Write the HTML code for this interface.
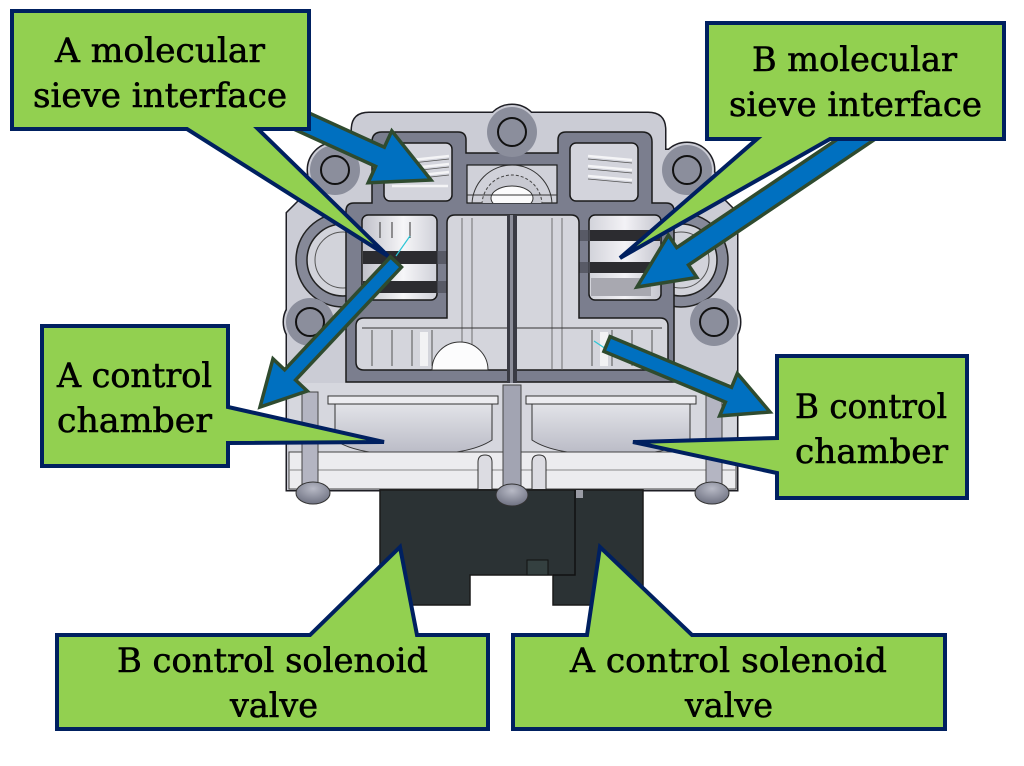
<!DOCTYPE html>
<html>
<head>
<meta charset="utf-8">
<style>
html,body{margin:0;padding:0;background:#fff;}
svg{display:block;}
text{font-family:"DejaVu Serif","Liberation Serif",serif;font-size:34px;fill:#000;stroke:#000;stroke-width:0.6px;}
</style>
</head>
<body>
<svg width="1024" height="766" viewBox="0 0 1024 766" xmlns="http://www.w3.org/2000/svg">
<defs>
  <linearGradient id="gL" x1="0" x2="1" y1="0" y2="0">
    <stop offset="0" stop-color="#bfc0c9"/>
    <stop offset="0.55" stop-color="#f6f6f8"/>
    <stop offset="1" stop-color="#cfd0d8"/>
  </linearGradient>
  <linearGradient id="gR" x1="0" x2="1" y1="0" y2="0">
    <stop offset="0" stop-color="#d2d3da"/>
    <stop offset="0.5" stop-color="#f3f2f6"/>
    <stop offset="1" stop-color="#c4c5ce"/>
  </linearGradient>
  <linearGradient id="gBowl" x1="0" x2="0" y1="0" y2="1">
    <stop offset="0" stop-color="#e2e3e8"/>
    <stop offset="1" stop-color="#b9bac5"/>
  </linearGradient>
  <radialGradient id="gScrew" cx="0.5" cy="0.3" r="0.7">
    <stop offset="0" stop-color="#b8bac6"/>
    <stop offset="1" stop-color="#6f7282"/>
  </radialGradient>
  <clipPath id="ctop"><rect x="467" y="165" width="90" height="38"/></clipPath>
  <g id="bsil">
    <path d="M352,150 V130 Q352,113 369,113 H648 Q665,113 665,130 V150 Z"/>
    <polygon points="340,150 684,150 714,172 724,200 737,213 737,490 287,490 287,213 300,200 310,172"/>
    <circle cx="335" cy="170" r="27"/>
    <circle cx="687" cy="170" r="27"/>
    <circle cx="512" cy="132" r="27"/>
    <circle cx="310" cy="322" r="26"/>
    <circle cx="714" cy="322" r="26"/>
  </g>
  <clipPath id="cl">
    <path clip-rule="evenodd" d="M0,0H1024V766H0Z M10,9H311V131H10Z M705,21H1006V141H705Z M40,324H230V468H40Z M775,354H969V500H775Z"/>
  </clipPath>
</defs>

<!-- ===== Mechanical body ===== -->
<use href="#bsil" fill="#cbccd5" stroke="#1e1e24" stroke-width="3"/>
<use href="#bsil" fill="#cbccd5"/>

<!-- large side rings -->
<circle cx="343" cy="260" r="47" fill="#868998" stroke="#222" stroke-width="1.5"/>
<circle cx="343" cy="260" r="36" fill="#d2d3da" stroke="#222" stroke-width="1.5"/>
<circle cx="343" cy="260" r="28" fill="none" stroke="#555" stroke-width="1"/>
<circle cx="681" cy="260" r="47" fill="#868998" stroke="#222" stroke-width="1.5"/>
<circle cx="681" cy="260" r="36" fill="#d2d3da" stroke="#222" stroke-width="1.5"/>
<circle cx="681" cy="260" r="28" fill="none" stroke="#555" stroke-width="1"/>

<!-- dark frame -->
<path d="M372,142 Q372,132 382,132 H458 Q466,132 466,140 V153 H558 V140 Q558,132 566,132 H642 Q652,132 652,142 V203 H666 Q674,203 674,211 V382 H346 V211 Q346,203 354,203 H372 Z" fill="#7b7e8e" stroke="#1a1a1a" stroke-width="1.5"/>

<!-- boss disks -->
<g fill="#8b8e9c">
  <circle cx="335" cy="170" r="25"/>
  <circle cx="687" cy="170" r="25"/>
  <circle cx="512" cy="132" r="25"/>
  <circle cx="310" cy="322" r="24"/>
  <circle cx="714" cy="322" r="24"/>
</g>
<g fill="#8b8e9c" stroke="#111" stroke-width="2">
  <circle cx="335" cy="170" r="14"/>
  <circle cx="687" cy="170" r="14"/>
  <circle cx="512" cy="132" r="14"/>
  <circle cx="310" cy="322" r="14"/>
  <circle cx="714" cy="322" r="14"/>
</g>

<!-- top spring cavities -->
<rect x="384" y="143" width="68" height="58" rx="6" fill="#d3d4dc" stroke="#1a1a1a" stroke-width="1.5"/>
<rect x="570" y="143" width="68" height="58" rx="6" fill="#d3d4dc" stroke="#1a1a1a" stroke-width="1.5"/>
<path d="M412,160 L449,156 M412,168 L449,164 M412,176 L449,172 M392,186 L448,186" stroke="#f4f4f6" stroke-width="2.5" fill="none"/>
<path d="M412,163 L449,159 M412,171 L449,167 M412,179 L449,175" stroke="#555" stroke-width="0.8" fill="none"/>
<path d="M588,156 L632,160 M588,166 L632,170 M588,176 L632,180" stroke="#f4f4f6" stroke-width="2.5" fill="none"/>
<path d="M588,159 L632,163 M588,169 L632,173 M588,179 L632,183" stroke="#555" stroke-width="0.8" fill="none"/>

<!-- center top -->
<rect x="467" y="165" width="90" height="38" fill="#d0d1d9" stroke="#1a1a1a" stroke-width="1.2"/>
<g clip-path="url(#ctop)">
  <circle cx="512" cy="205" r="40" fill="none" stroke="#333" stroke-width="1"/>
  <circle cx="512" cy="205" r="30" fill="#c8c9d1" stroke="#444" stroke-width="1" stroke-dasharray="3,2"/>
  <ellipse cx="512" cy="198" rx="21" ry="12" fill="#fbfbfc" stroke="#333" stroke-width="1"/>
</g>
<path d="M467,195 H557" stroke="#333" stroke-width="1"/>

<!-- middle sieve chambers -->
<rect x="362" y="215" width="75" height="85" rx="6" fill="url(#gL)" stroke="#1a1a1a" stroke-width="1.5"/>
<rect x="363" y="251" width="74" height="13" fill="#2c2c30"/>
<rect x="363" y="281" width="74" height="12" fill="#2c2c30"/>
<rect x="437" y="251" width="25" height="13" fill="#4a4b55" opacity="0.7"/>
<rect x="437" y="281" width="25" height="12" fill="#4a4b55" opacity="0.7"/>
<path d="M380,222 V238 M392,222 V238 M410,222 V238" stroke="#333" stroke-width="1"/>

<rect x="589" y="215" width="72" height="85" rx="6" fill="url(#gR)" stroke="#1a1a1a" stroke-width="1.5"/>
<rect x="590" y="230" width="70" height="11" fill="#2c2c30"/>
<rect x="590" y="262" width="70" height="11" fill="#2c2c30"/>
<rect x="562" y="230" width="28" height="11" fill="#4a4b55" opacity="0.7"/>
<rect x="562" y="262" width="28" height="11" fill="#4a4b55" opacity="0.7"/>
<rect x="591" y="278" width="60" height="18" fill="#a8a8b0"/>

<!-- center + lower chambers -->
<path d="M455,215 H571 Q579,215 579,223 V318 H660 Q668,318 668,326 V362 Q668,370 660,370 H364 Q356,370 356,362 V326 Q356,318 364,318 H447 V223 Q447,215 455,215 Z" fill="#d4d5dc" stroke="#1a1a1a" stroke-width="1.5"/>
<path d="M462,218 V370 M472,218 V370 M552,218 V370 M562,218 V370" stroke="#555" stroke-width="0.8"/>
<path d="M362,328 H662" stroke="#333" stroke-width="1"/>
<path d="M372,330 V366 M392,330 V366 M412,330 V366 M432,330 V366 M592,330 V366 M612,330 V366 M632,330 V366 M652,330 V366" stroke="#555" stroke-width="1"/>
<rect x="420" y="332" width="8" height="34" fill="#f2f2f4"/>
<rect x="600" y="332" width="8" height="34" fill="#f2f2f4"/>
<path d="M432,370 A28,28 0 0 1 488,370 Z" fill="#fcfcfd" stroke="#333" stroke-width="1"/>
<rect x="507" y="215" width="10" height="172" fill="#3a3b44"/>
<rect x="510" y="215" width="3" height="172" fill="#8a8c98"/>

<!-- lower region -->
<rect x="289" y="383" width="447" height="70" fill="#d6d7de"/>
<rect x="328" y="396" width="170" height="8" fill="#ececf0" stroke="#333" stroke-width="1"/>
<rect x="526" y="396" width="170" height="8" fill="#ececf0" stroke="#333" stroke-width="1"/>
<path d="M335,404 H492 V440 Q470,455 413,455 Q356,455 335,440 Z" fill="url(#gBowl)" stroke="#333" stroke-width="1"/>
<path d="M532,404 H690 V440 Q668,455 611,455 Q554,455 532,440 Z" fill="url(#gBowl)" stroke="#333" stroke-width="1"/>
<rect x="289" y="452" width="447" height="37" fill="#ececef" stroke="#444" stroke-width="1"/>
<path d="M289,470 H736" stroke="#888" stroke-width="1"/>
<rect x="302" y="392" width="16" height="97" fill="#b4b5c2" stroke="#444" stroke-width="1"/>
<rect x="706" y="392" width="16" height="97" fill="#b4b5c2" stroke="#444" stroke-width="1"/>
<rect x="503" y="385" width="18" height="104" fill="#a2a4b2" stroke="#444" stroke-width="1"/>
<path d="M478,489 V462 Q478,455 485,455 Q492,455 492,462 V489" fill="#dcdce2" stroke="#333" stroke-width="1"/>
<path d="M532,489 V462 Q532,455 539,455 Q546,455 546,462 V489" fill="#dcdce2" stroke="#333" stroke-width="1"/>

<!-- solenoid block -->
<path d="M380,490 H643 V605 H553 V575 H470 V605 H380 Z" fill="#2b3234" stroke="#1a1a1a" stroke-width="1.5"/>
<path d="M575,490 V575 H553" stroke="#111" stroke-width="1.5" fill="none"/>
<rect x="527" y="560" width="21" height="15" fill="#344040" stroke="#111" stroke-width="1"/>
<rect x="576" y="490" width="7" height="8" fill="#9a9ca5"/>

<!-- screws -->
<ellipse cx="313" cy="493" rx="17" ry="11" fill="url(#gScrew)" stroke="#333" stroke-width="1"/>
<ellipse cx="512" cy="495" rx="16" ry="11" fill="url(#gScrew)" stroke="#333" stroke-width="1"/>
<ellipse cx="712" cy="493" rx="17" ry="11" fill="url(#gScrew)" stroke="#333" stroke-width="1"/>

<!-- cyan marks -->
<line x1="396" y1="256" x2="410" y2="236" stroke="#2cc6d6" stroke-width="1.2"/>
<line x1="594" y1="341" x2="606" y2="349" stroke="#2cc6d6" stroke-width="1.2"/>

<!-- ===== Callouts ===== -->
<g fill="#92d050" stroke="#002060" stroke-width="4" stroke-linejoin="miter" stroke-miterlimit="4">
  <path d="M12,11 H309 V129 H258 L388,256 L187,129 H12 Z"/>
  <path d="M707,23 H1004 V139 H830 L620,258 L757,139 H707 Z"/>
  <path d="M42,326 H228 V407 L384,442 L228,443 V466 H42 Z"/>
  <path d="M777,356 H967 V498 H777 V473 L633,442 L777,438 Z"/>
  <path d="M57,635 H310 L400,547 L417,635 H488 V729 H57 Z"/>
  <path d="M513,635 H587 L600,547 L692,635 H945 V729 H513 Z"/>
</g>

<!-- ===== Arrows ===== -->
<g clip-path="url(#cl)" fill="#0070c0" stroke="#2f4b2f" stroke-width="3.5" stroke-linejoin="miter" stroke-miterlimit="6">
  <polygon points="280.65,100.04 384.35,147.24 391.8,130.9 431,180 368.2,182.7 375.65,166.36 271.95,119.16"/>
  <polygon points="390.53,256.87 284.63,369.77 272.97,358.83 260,407 307.23,390.97 295.57,380.03 401.47,267.13"/>
  <polygon points="871.53,116.2 676.73,247.6 668.35,235.16 637,287 696.85,277.44 688.47,265.0 883.27,133.6"/>
  <polygon points="610.08,336.62 731.55,387.3 737.33,373.45 770,412 719.61,415.91 725.39,402.06 603.92,351.38"/>
</g>

<!-- ===== Labels ===== -->
<text x="55" y="62" textLength="210" lengthAdjust="spacingAndGlyphs">A molecular</text>
<text x="33" y="107" textLength="254" lengthAdjust="spacingAndGlyphs">sieve interface</text>

<text x="752" y="71" textLength="205" lengthAdjust="spacingAndGlyphs">B molecular</text>
<text x="729" y="116" textLength="253" lengthAdjust="spacingAndGlyphs">sieve interface</text>

<text x="57" y="387" textLength="155" lengthAdjust="spacingAndGlyphs">A control</text>
<text x="57" y="432" textLength="155" lengthAdjust="spacingAndGlyphs">chamber</text>

<text x="795" y="418" textLength="152" lengthAdjust="spacingAndGlyphs">B control</text>
<text x="795" y="463" textLength="153" lengthAdjust="spacingAndGlyphs">chamber</text>

<text x="117" y="672" textLength="311" lengthAdjust="spacingAndGlyphs">B control solenoid</text>
<text x="230" y="717" textLength="88" lengthAdjust="spacingAndGlyphs">valve</text>

<text x="570" y="672" textLength="317" lengthAdjust="spacingAndGlyphs">A control solenoid</text>
<text x="685" y="717" textLength="88" lengthAdjust="spacingAndGlyphs">valve</text>
</svg>
</body>
</html>
